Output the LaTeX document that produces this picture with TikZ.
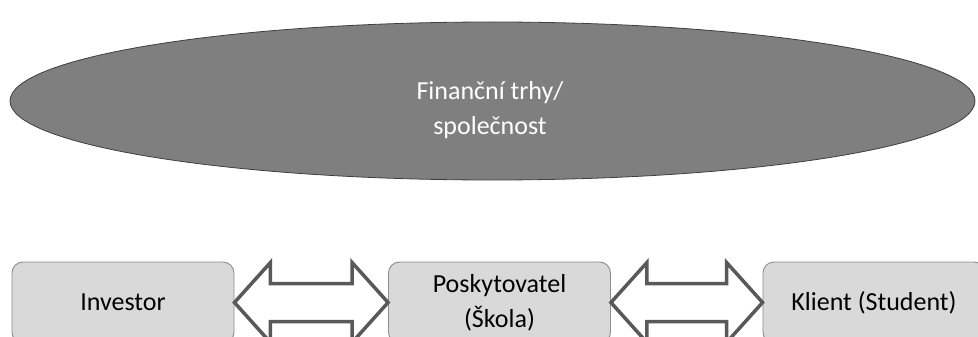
\documentclass[tikz,border=0pt]{standalone}
\usepackage{fontspec}
\setmainfont{Carlito}
\usetikzlibrary{shapes.geometric,calc}
\definecolor{ovalfill}{HTML}{7F7F7F}
\definecolor{ovalline}{HTML}{3F3F3F}
\definecolor{boxfill}{HTML}{D9D9D9}
\definecolor{boxline}{HTML}{8C8C8C}
\definecolor{arrowline}{HTML}{595959}
\tikzset{
  labeltext/.style={font=\fontsize{26}{35}\selectfont, align=center},
  oval/.style={ellipse, draw=ovalline, line width=0.8pt, fill=ovalfill, inner sep=0pt},
  ovaltext/.style={text=white, labeltext, inner sep=0pt},
  rolebox/.style={rectangle, rounded corners=11pt, draw=boxline, line width=0.9pt,
    fill=boxfill, text=black, labeltext, minimum width=222pt, minimum height=81pt,
    inner sep=0pt},
  bigarrow/.style={draw=arrowline, fill=white, line width=3.5pt, line join=miter},
}
% head length, head half-width and shaft half-width of the block arrows
\def\hl{36pt}\def\hw{40pt}\def\sw{19pt}
\begin{document}
\begin{tikzpicture}[x=1pt,y=-1pt]
  \useasboundingbox (0,0) rectangle (978,337);
  \begin{scope}
  \clip (0,0) rectangle (978,337);
  % market / society
  \node[oval, minimum width=965pt, minimum height=158pt] (market) at (492.5,101) {};
  \node[ovaltext] (marketlabel) at (490,110) {Finanční trhy/\\společnost};
  % the three parties
  \node[rolebox] (inv) at (123,302.5) {Investor};
  \node[rolebox] (pos) at (499.5,302.5) {Poskytovatel\\(Škola)};
  \node[rolebox] (cli) at (874,302.5) {Klient (Student)};
  % two-way block arrows between the parties
  \foreach \a/\b in {inv/pos, pos/cli}{
    \draw[bigarrow] let \p1=(\a.east), \p2=(\b.west) in
      (\p1) -- (\x1+\hl,\y1+\hw) -- (\x1+\hl,\y1+\sw) -- (\x2-\hl,\y1+\sw)
      -- (\x2-\hl,\y1+\hw) -- (\p2) -- (\x2-\hl,\y1-\hw) -- (\x2-\hl,\y1-\sw)
      -- (\x1+\hl,\y1-\sw) -- (\x1+\hl,\y1-\hw) -- cycle;
  }
  \end{scope}
\end{tikzpicture}
\end{document}
